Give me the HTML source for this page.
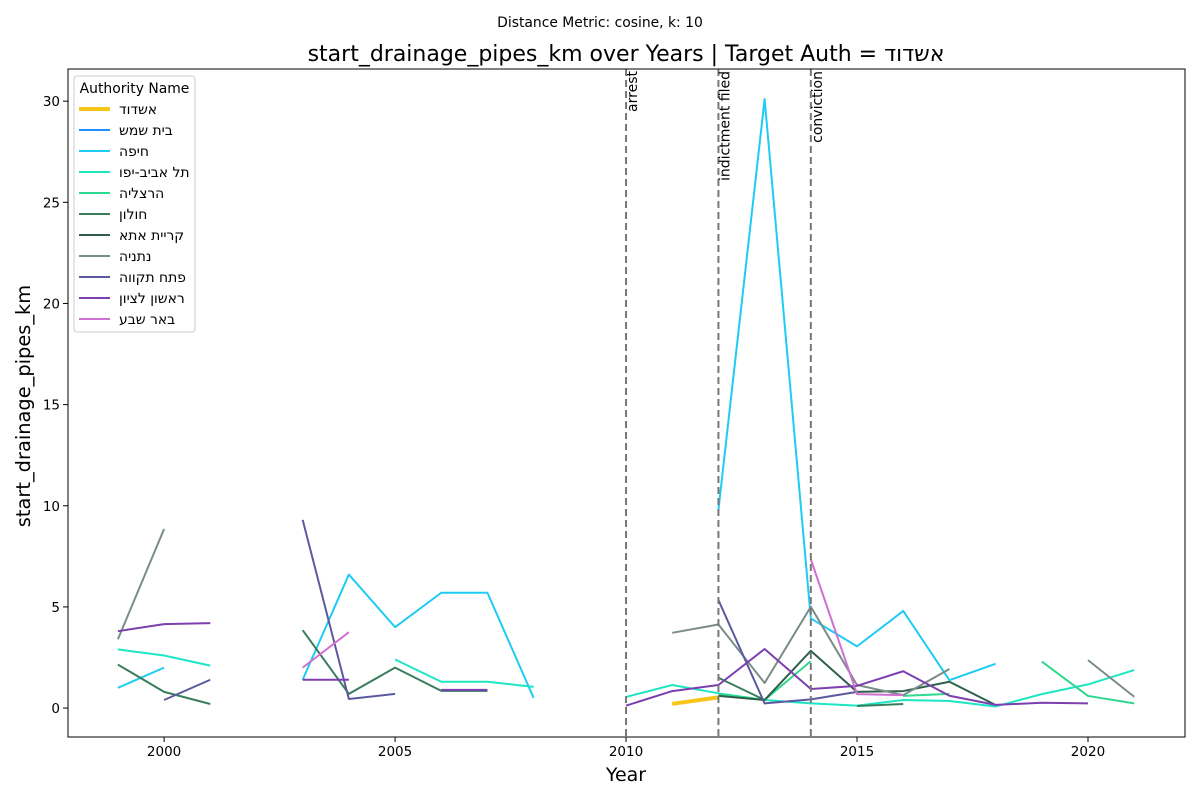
<!DOCTYPE html>
<html><head><meta charset="utf-8"><style>
body{margin:0;background:#fff;}
svg{display:block;font-family:"DejaVu Sans","Liberation Sans","Noto Sans CJK JP",sans-serif;}
</style></head><body>
<svg id="chart" width="1200" height="800" xmlns="http://www.w3.org/2000/svg">
<rect width="1200" height="800" fill="#fff"/>
<text x="600" y="27" font-size="13.9" text-anchor="middle">Distance Metric: cosine, k: 10</text>
<text x="626" y="61" font-size="22" text-anchor="middle">start_drainage_pipes_km over Years | Target Auth = אשדוד</text>
<text x="626" y="781" font-size="19" text-anchor="middle">Year</text>
<text transform="translate(30,406) rotate(-90)" font-size="19.4" text-anchor="middle">start_drainage_pipes_km</text>
<g id="axes"></g>
<g id="series"></g>
<g id="events"></g>
<rect x="68" y="69" width="1117" height="668" fill="none" stroke="#000" stroke-width="1"/>
<g id="legend"></g>
</svg>
<script>
const names=["אשדוד","בית שמש","חיפה","תל אביב-יפו","הרצליה","חולון","קריית אתא","נתניה","פתח תקווה","ראשון לציון","באר שבע"];
const colors=["#f5c518","#1e90ff","#1ecbf5","#1de6c3","#2fd88e","#3a7d5c","#2f5f4c","#7a8c86","#5b5a9e","#7b3fb0","#d070d0"];
// each series: array of segments, each [startYear, values...]
const s_ashdod=[[2011,0.21,0.53]];
const s_beitshemesh=[];
const s_haifa=[[1999,1.0,2.0],[2003,1.4,6.6,4.0,5.7,5.7,0.5],[2012,9.8,30.1,4.43,3.05,4.8,1.38,2.19]];
const s_telaviv=[[1999,2.9,2.6,2.1],[2005,2.4,1.3,1.3,1.05],[2010,0.55,1.14,0.73,0.4,0.23,0.12,0.4,0.35,0.08,0.69,1.17,1.88]];
const s_herzliya=[[2012,0.7,0.4,2.32],[2016,0.6,0.7],[2019,2.3,0.6,0.23]];
const s_holon=[[1999,2.15,0.8,0.2],[2003,3.85,0.7,2.0,0.85,0.85],[2012,1.5,0.4],[2015,0.1,0.2]];
const s_kiryat=[[2012,0.6,0.4,2.83,0.8,0.84,1.3,0.15]];
const s_netanya=[[1999,3.4,8.85],[2011,3.72,4.13,1.24,5.01,1.14,0.64,1.93],[2020,2.37,0.56]];
const s_petah=[[2000,0.4,1.4],[2003,9.3,0.45,0.7],[2012,5.34,0.23,0.43,0.8]];
const s_rishon=[[1999,3.8,4.15,4.2],[2003,1.4,1.4],[2006,0.9,0.9],[2010,0.12,0.84,1.14,2.92,0.94,1.1,1.82,0.61,0.16,0.26,0.23]];
const s_beersheva=[[2003,2.0,3.75],[2014,7.35,0.69,0.64]];
const seriesList=[s_ashdod,s_beitshemesh,s_haifa,s_telaviv,s_herzliya,s_holon,s_kiryat,s_netanya,s_petah,s_rishon,s_beersheva];
const xTicks=[2000,2005,2010,2015,2020];
const yTicks=[0,5,10,15,20,25,30];
const events=[2010,2012,2014];
const eventLabels=["arrest","indictment filed","conviction"];
const X0=68,X1=1185,Y0=69,Y1=737,xmin=1997.92,xmax=2022.1,ymin=-1.43,ymax=31.59;
const xs=v=>X0+(v-xmin)/(xmax-xmin)*(X1-X0);
const ys=v=>Y1-(v-ymin)/(ymax-ymin)*(Y1-Y0);
const NS="http://www.w3.org/2000/svg";
function mk(t,a,p){const e=document.createElementNS(NS,t);for(const k in a)e.setAttribute(k,a[k]);p.appendChild(e);return e;}
const ax=document.getElementById('axes');
xTicks.forEach(t=>{const x=xs(t);
 const l=mk('line',{x1:x,x2:x,y1:Y1,y2:Y1+5,stroke:'#000'},ax);
 
 
 const tx=mk('text',{x:x,y:Y1+19,'font-size':13.5,'text-anchor':'middle'},ax);tx.textContent=t;
 
 });
yTicks.forEach(t=>{const y=ys(t);
 const l=mk('line',{x1:X0-5,x2:X0,y1:y,y2:y,stroke:'#000'},ax);
 
 
 const tx=mk('text',{x:X0-8,y:y+5,'font-size':13.5,'text-anchor':'end'},ax);tx.textContent=t;
 
 });
const sg=document.getElementById('series');
[2,3,4,5,6,7,8,9,10,0,1].forEach(i=>{
 seriesList[i].forEach(seg=>{
  const y0=seg[0];const pts=seg.slice(1).map((v,j)=>xs(y0+j)+','+ys(v)).join(' ');
  const p=mk('polyline',{points:pts,fill:'none',stroke:colors[i],'stroke-width':i===0?4:2,'stroke-linejoin':'round'},sg);
  
  
 });
});
const eg=document.getElementById('events');
events.forEach((ev,i)=>{const x=xs(ev);
 const l=mk('line',{x1:x,x2:x,y1:Y0,y2:Y1,stroke:'#777','stroke-width':2,'stroke-dasharray':'7,4'},eg);
 
 
 const t=mk('text',{transform:`translate(${x+11},${Y0+2}) rotate(-90)`,'font-size':14,'text-anchor':'end'},eg);
 t.textContent=eventLabels[i];
 
 });
const lg=document.getElementById('legend');
const box=mk('rect',{x:74,y:76,width:121,height:256,rx:3,fill:'#fff',stroke:'#ccc','fill-opacity':0.85},lg);


const lt=mk('text',{x:134.5,y:93,'font-size':13.9,'text-anchor':'middle'},lg);lt.textContent='Authority Name';


names.forEach((n,i)=>{const y=109+i*21;
 const g=mk('g',{},lg);
 
 
 mk('line',{x1:79,x2:110,y1:y,y2:y,stroke:colors[i],'stroke-width':i===0?4:2},g);
 const t=mk('text',{x:119,y:y+5,'font-size':13.9},g);t.textContent=n;});
</script>
</body></html>
